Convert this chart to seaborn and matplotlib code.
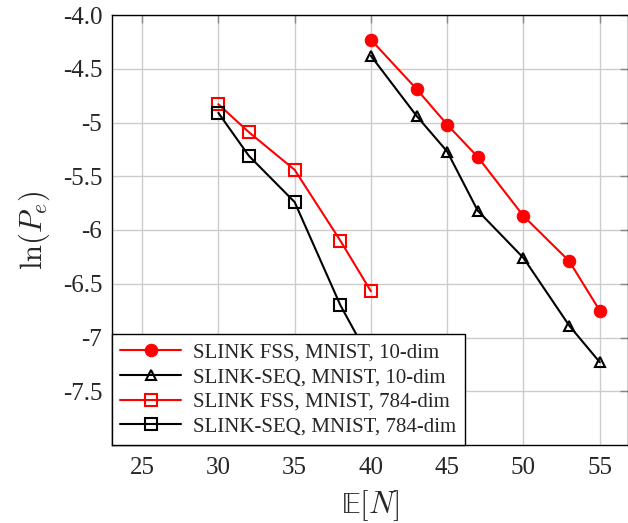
import numpy as np
import pandas as pd
import matplotlib
matplotlib.use("Agg")
import matplotlib.pyplot as plt
import seaborn as sns

# dados
x_fss10 = [40, 43, 45, 47, 50, 53, 55]
y_fss10 = [-4.23, -4.69, -5.02, -5.32, -5.87, -6.29, -6.75]

x_seq10 = [40, 43, 45, 47, 50, 53, 55]
y_seq10 = [-4.38, -4.94, -5.27, -5.82, -6.26, -6.89, -7.23]

x_fss784 = [30, 32, 35, 38, 40]
y_fss784 = [-4.83, -5.09, -5.44, -6.10, -6.57]

x_seq784 = [30, 32, 35, 38, 40]
y_seq784 = [-4.91, -5.31, -5.74, -6.70, -7.22]

labels = ['SLINK FSS, MNIST, 10-dim', 'SLINK-SEQ, MNIST, 10-dim',
          'SLINK FSS, MNIST, 784-dim', 'SLINK-SEQ, MNIST, 784-dim']

x_ticks = [25, 30, 35, 40, 45, 50, 55]
y_ticks = [-4.0, -4.5, -5, -5.5, -6, -6.5, -7, -7.5]
y_tick_labels = ['-4.0', '-4.5', '-5', '-5.5', '-6', '-6.5', '-7', '-7.5']

sns.set_style("whitegrid")
plt.rcParams['font.family'] = ['Liberation Serif', 'DejaVu Serif']
plt.rcParams['mathtext.fontset'] = 'cm'

fig = plt.figure(figsize=(6.28, 5.23), dpi=100)
ax = fig.add_axes([112 / 628, 1 - 445 / 523, 516 / 628, 430 / 523])

series = [
    (x_fss10, y_fss10, 'red', 'o', dict(markerfacecolor='red', markersize=9)),
    (x_seq10, y_seq10, 'black', '^', dict(markerfacecolor='none', markersize=7, markeredgewidth=1.5)),
    (x_fss784, y_fss784, 'red', 's', dict(markerfacecolor='none', markersize=8, markeredgewidth=1.5)),
    (x_seq784, y_seq784, 'black', 's', dict(markerfacecolor='none', markersize=8, markeredgewidth=1.5)),
]
for (xs, ys, c, m, kw), lab in zip(series, labels):
    sns.lineplot(x=xs, y=ys, ax=ax, color=c, marker=m, markeredgecolor=c,
                 linewidth=1.5, label=lab, **kw)

ax.set_xlim(23.03, 56.85)
ax.set_ylim(-8, -4)
ax.set_xticks(x_ticks)
ax.set_yticks(y_ticks)
ax.set_yticklabels(y_tick_labels)
ax.tick_params(axis='both', labelsize=18, direction='in', length=6,
               color='#888888', top=True, right=True, width=1)
ax.tick_params(axis='x', pad=9)
ax.tick_params(axis='y', pad=7)
ax.grid(True, color='#cccccc', linewidth=1)
for s in ax.spines.values():
    s.set_color('black')
    s.set_linewidth(1)

ax.set_xlabel(r'$\mathrm{𝔼}[N]$', fontsize=22, labelpad=6)
ax.set_ylabel(r'$\ln(P_e)$', fontsize=22, labelpad=8)

leg = ax.legend(loc='lower left', fontsize=15, frameon=True, fancybox=False,
                borderaxespad=0, handlelength=2.9, labelspacing=0.25,
                borderpad=0.4, handletextpad=0.6)
leg.get_frame().set_edgecolor('black')
leg.get_frame().set_linewidth(1)
leg.get_frame().set_alpha(1)

plt.savefig('out.png', dpi=100)
